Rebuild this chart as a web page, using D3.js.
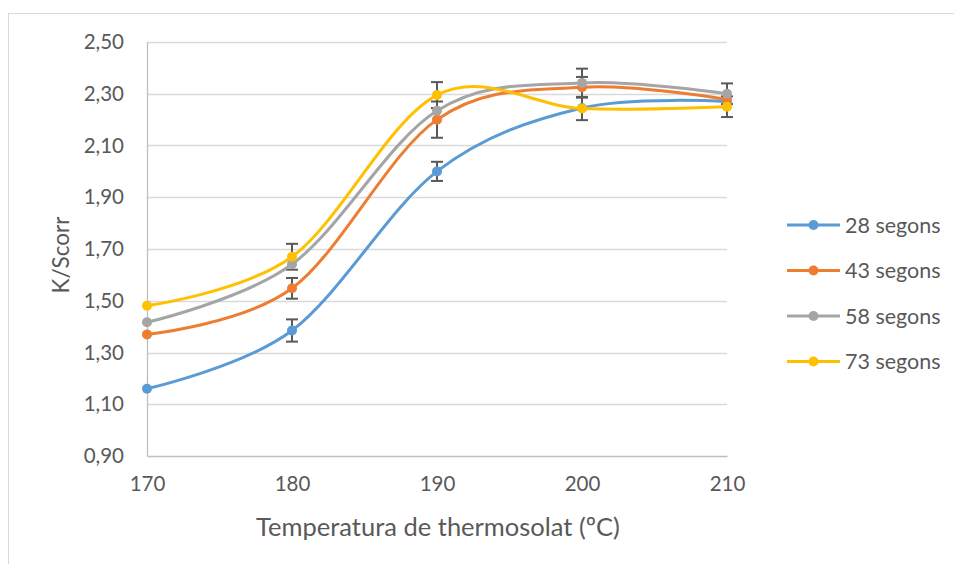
<!DOCTYPE html>
<html><head><meta charset="utf-8">
<script src="https://cdn.jsdelivr.net/npm/d3@7"></script>
<style>body{margin:0;background:#fff}svg{display:block}text{font-family:Lato,"Open Sans",sans-serif;fill:#595959}</style>
</head><body>
<script>
const temps = [170, 180, 190, 200, 210];
const seriesNames = ["28 segons", "43 segons", "58 segons", "73 segons"];
const s28 = [1.16, 1.385, 2.00, 2.245, 2.27];
const s43 = [1.37, 1.548, 2.20, 2.325, 2.278];
const s58 = [1.417, 1.641, 2.234, 2.342, 2.30];
const s73 = [1.481, 1.67, 2.295, 2.243, 2.25];
const err28 = [0, 0.043, 0.037, 0, 0];
const err43 = [0, 0.04, 0.07, 0.04, 0];
const err58 = [0, 0, 0, 0.055, 0.04];
const err73 = [0, 0.05, 0.05, 0.045, 0.04];
const yTicks = [0.90, 1.10, 1.30, 1.50, 1.70, 1.90, 2.10, 2.30, 2.50];
const xTicks = [170, 180, 190, 200, 210];
const colors = ["#5B9BD5", "#ED7D31", "#A5A5A5", "#FFC000"];
const xTitle = "Temperatura de thermosolat (ºC)";
const yTitle = "K/Scorr";

const W = 954, H = 564;
const svg = d3.select("body").append("svg").attr("width", W).attr("height", H);
svg.append("rect").attr("x", 8.5).attr("y", 13.5).attr("width", W - 8).attr("height", H).attr("fill", "#fff").attr("stroke", "#D9D9D9");

const x = d3.scaleLinear().domain([170, 210]).range([147, 727]);
const y = d3.scaleLinear().domain([0.9, 2.5]).range([456, 42]);
const fmt = v => d3.format(".2f")(v).replace(".", ",");

// gridlines
svg.append("g").selectAll("line").data(yTicks.slice(1)).join("line")
  .attr("x1", x(170)).attr("x2", x(210))
  .attr("y1", d => Math.round(y(d)) + 0.5).attr("y2", d => Math.round(y(d)) + 0.5)
  .attr("stroke", "#D9D9D9").attr("stroke-width", 1.3);

// axes
const yAxis = svg.append("g").attr("transform", `translate(${x(170)},0)`)
  .call(d3.axisLeft(y).tickValues(yTicks).tickFormat(fmt).tickSize(0).tickPadding(23));
yAxis.select(".domain").attr("stroke", "#BFBFBF").attr("stroke-width", 1.3);
yAxis.selectAll("text").style("font-size", "20.5px").attr("fill", "#595959");

const xAxis = svg.append("g").attr("transform", `translate(0,${y(0.9)})`)
  .call(d3.axisBottom(x).tickValues(xTicks).tickFormat(d3.format("d")).tickSize(0).tickPadding(20));
xAxis.select(".domain").attr("stroke", "#BFBFBF").attr("stroke-width", 1.3);
xAxis.selectAll("text").style("font-size", "20.5px").attr("fill", "#595959");

svg.append("text").attr("x", 438).attr("y", 536).attr("text-anchor", "middle").style("font-size", "25.5px").text(xTitle);
svg.append("text").attr("transform", "translate(69,255) rotate(-90)").attr("text-anchor", "middle").style("font-size", "22.5px").text(yTitle);

const all = [s28, s43, s58, s73];
const errs = [err28, err43, err58, err73];

// error bars
const eg = svg.append("g").attr("stroke", "#595959").attr("stroke-width", 2);
all.forEach((s, i) => {
  s.forEach((v, j) => {
    const e = errs[i][j];
    if (!e) return;
    const cx = x(temps[j]);
    eg.append("line").attr("x1", cx).attr("x2", cx).attr("y1", y(v + e)).attr("y2", y(v - e));
    [v + e, v - e].forEach(b => eg.append("line").attr("x1", cx - 6).attr("x2", cx + 6).attr("y1", y(b)).attr("y2", y(b)));
  });
});

const line = d3.line().x((d, j) => x(temps[j])).y(d => y(d)).curve(d3.curveCardinal.tension(0));
all.forEach((s, i) => {
  svg.append("path").datum(s).attr("d", line).attr("fill", "none").attr("stroke", colors[i]).attr("stroke-width", 3).attr("stroke-linecap", "round");
  svg.append("g").selectAll("circle").data(s).join("circle")
    .attr("cx", (d, j) => x(temps[j])).attr("cy", d => y(d)).attr("r", 5).attr("fill", colors[i]);
});

// legend
const lg = svg.append("g");
seriesNames.forEach((n, i) => {
  const ly = 225 + i * 45.5;
  lg.append("line").attr("x1", 787).attr("x2", 840).attr("y1", ly).attr("y2", ly).attr("stroke", colors[i]).attr("stroke-width", 3);
  lg.append("circle").attr("cx", 813.5).attr("cy", ly).attr("r", 5).attr("fill", colors[i]);
  lg.append("text").attr("x", 845).attr("y", ly).attr("dy", "0.35em").style("font-size", "21.5px").text(n);
});
</script>
</body></html>
